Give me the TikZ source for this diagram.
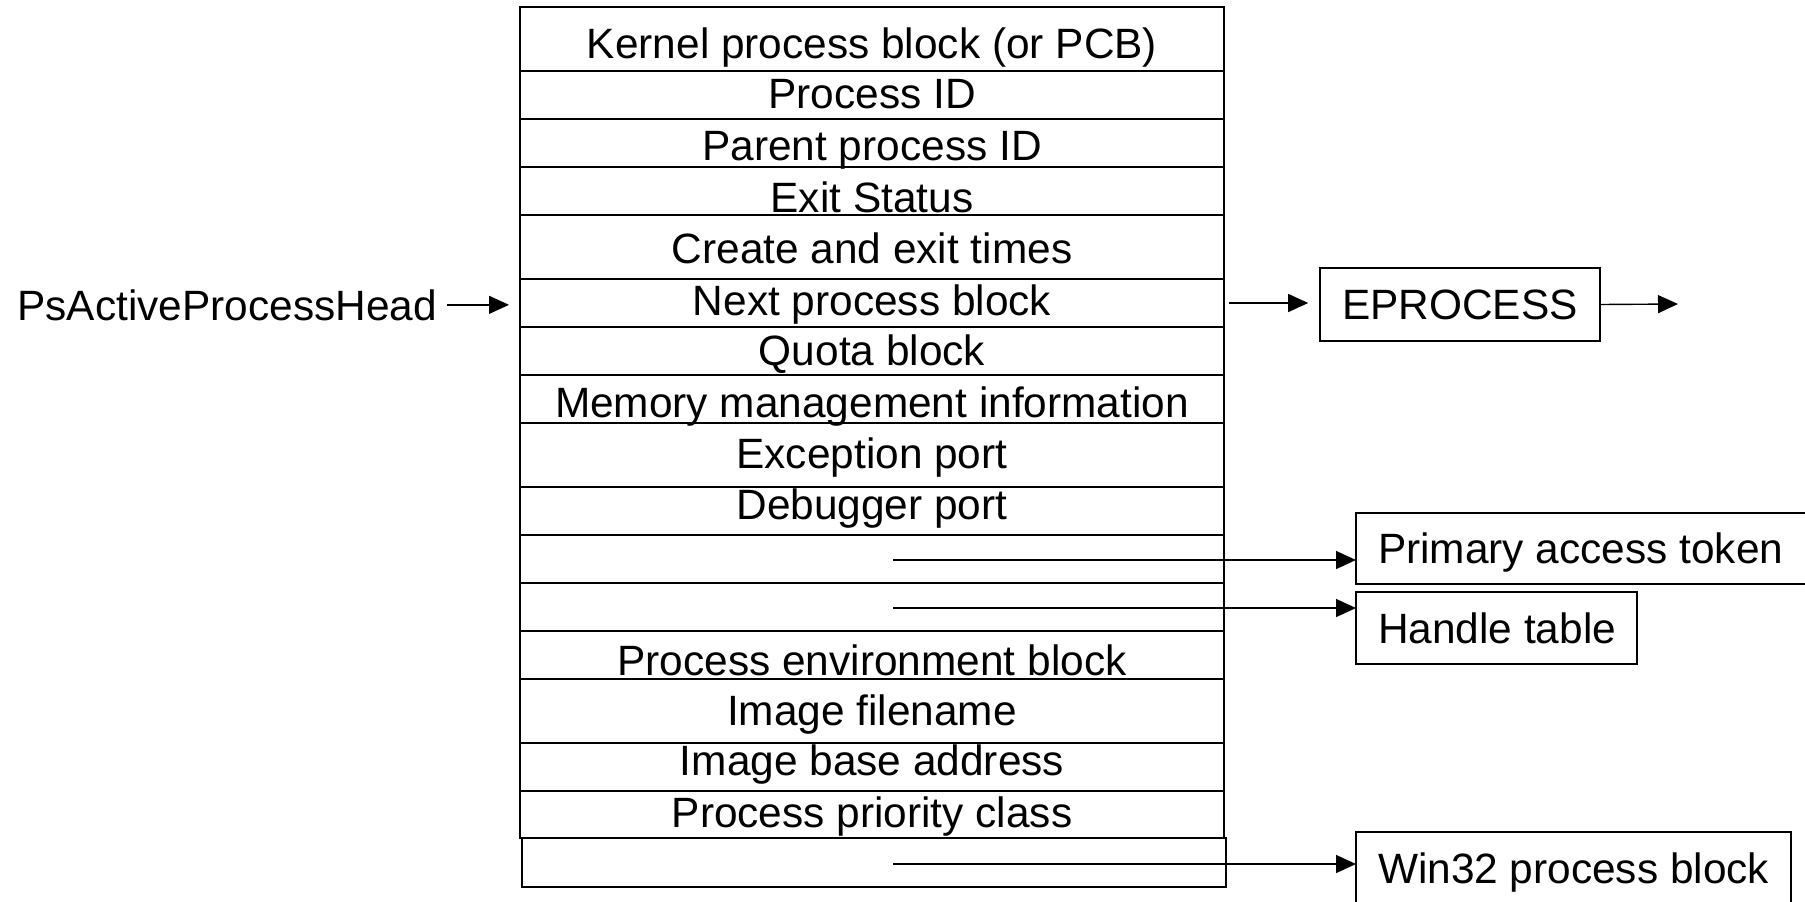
\documentclass[tikz,border=0pt]{standalone}
\usepackage{fontspec}
\setmainfont{Liberation Sans}
\usepackage{tikz}
\usetikzlibrary{arrows.meta}

% left-aligned text in a box of fixed width, never wrapped
\newcommand{\flushtext}[2]{\makebox[#1][l]{#2}}

\tikzset{
    field/.style={draw, line width=1pt, minimum width=352pt, inner sep=0pt, outer sep=0pt},
    fname/.style={anchor=base, inner sep=0pt},
    obj/.style={draw, line width=1pt, inner xsep=11pt, inner ysep=0pt, outer sep=0pt, text depth=0pt},
    ptr/.style={line width=0.7pt, -{Triangle[length=10pt,width=9pt]}},
}

\begin{document}
\begin{tikzpicture}[x=0.5pt,y=-0.5pt,font=\fontsize{21.2pt}{25pt}\selectfont]
    \useasboundingbox (0,0) rectangle (1805,901);

    % fields of the process block
    \foreach \ya/\yb [count=\i] in {7/71,71/119,119/167,167/215,215/279,279/327,327/375,375/423,
                                    423/487,487/535,535/583,583/631,631/679,679/743,743/791,791/838}
        \node[field, minimum height={(\yb-\ya)*0.5pt}] (f\i) at (872,{(\ya+\yb)/2}) {};
    \node[field, minimum height=24.5pt] (f17) at (873.5,862.5) {};

    \foreach \i/\yt/\txt in {1/58/Kernel process block (or PCB), 2/108/Process ID,
                             3/160/Parent process ID, 4/212/Exit Status,
                             5/263/Create and exit times, 6/315/Next process block,
                             7/365/Quota block, 8/417/Memory management information,
                             9/468/Exception port, 10/519/Debugger port,
                             13/675/Process environment block, 14/725/Image filename,
                             15/775/Image base address, 16/827/Process priority class}
        \node[fname] (n\i) at (872,\yt) {\txt};

    % list head
    \node[anchor=base west, inner xsep=5pt, inner ysep=0pt] (head) at (7,320) {PsActiveProcessHead};

    % objects pointed to
    \node[obj, minimum width=139pt, minimum height=36.5pt] (eproc) at (1460,304.5) {EPROCESS};
    \node[obj, anchor=north west, minimum height=35.5pt] (token) at (1356,513) {\flushtext{215pt}{Primary access token}};
    \node[obj, anchor=north west, minimum height=36pt] (htable) at (1356,592) {\flushtext{118.5pt}{Handle table}};
    \node[obj, anchor=north west, minimum height=36pt] (win32) at (1356,832) {\flushtext{195.5pt}{Win32 process block}};

    \coordinate (nx) at (1678,304);
    \coordinate (p11) at (893,560);
    \coordinate (p12) at (893,608);
    \coordinate (p17) at (893,864);

    \draw[ptr, shorten >=5.5pt] (head.east) -- (head.east -| f6.west);
    \draw[ptr, shorten <=2.5pt, shorten >=6pt] (f6.east) -- (f6.east -| eproc.west);
    \draw[ptr] (eproc.east) -- (nx);
    \draw[ptr] (p11) -- (p11 -| token.west);
    \draw[ptr] (p12) -- (p12 -| htable.west);
    \draw[ptr] (p17) -- (p17 -| win32.west);
\end{tikzpicture}
\end{document}
